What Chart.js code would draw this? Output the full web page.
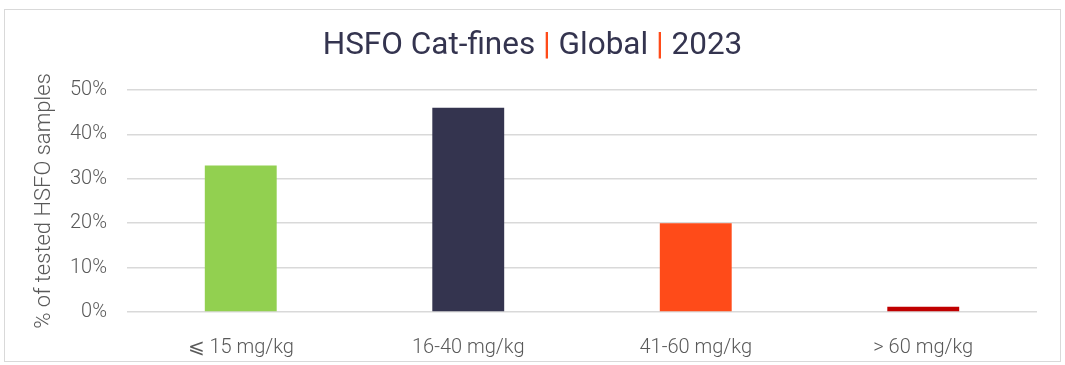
<!DOCTYPE html>
<html lang="en">
<head>
  <meta charset="UTF-8" />
  <title>HSFO Cat-fines | Global | 2023</title>
  <script src="https://cdn.jsdelivr.net/npm/chart.js"></script>
  <style>
    body {
      margin: 0;
      background-color: #ffffff;
      font-family: 'Roboto', sans-serif;
    }

    .frame {
      position: absolute;
      left: 4px;
      top: 9px;
      width: 1055px;
      height: 351px;
      border: 1.5px solid #d9d9d9;
    }

    .chart-title {
      position: absolute;
      left: 0;
      top: 26px;
      width: 1065px;
      text-align: center;
      font-size: 31.5px;
      line-height: 36px;
      color: #34344f;
    }

    .chart-title .sep {
      color: #ff4b19;
    }

    canvas {
      position: absolute;
      left: 0;
      top: 0;
    }
  </style>
</head>
<body>
  <div class="frame"></div>
  <canvas id="catfinesChart" width="1065" height="365"></canvas>
  <div class="chart-title">HSFO Cat-fines <span class="sep">|</span> Global <span class="sep">|</span> 2023</div>

  <script>
    const categories = ["⩽ 15 mg/kg", "16-40 mg/kg", "41-60 mg/kg", "> 60 mg/kg"];
    const shares = [33, 46, 20, 1.2];
    const barColors = ["#92d050", "#34344f", "#ff4b19", "#c00000"];
    const yTicks = [0, 10, 20, 30, 40, 50];

    const labelColor = "#595959";
    const gridColor = "#d9d9d9";

    new Chart(document.getElementById("catfinesChart"), {
      type: "bar",
      data: {
        labels: categories,
        datasets: [{
          label: "% of tested HSFO samples",
          data: shares,
          backgroundColor: barColors,
          categoryPercentage: 1,
          barPercentage: 0.316
        }]
      },
      options: {
        responsive: false,
        animation: false,
        layout: {
          padding: { left: 31, right: 28, top: 90, bottom: 0 }
        },
        plugins: {
          legend: { display: false },
          tooltip: { enabled: false }
        },
        scales: {
          x: {
            grid: { display: false },
            border: { display: false },
            ticks: {
              color: labelColor,
              font: { family: "Roboto", size: 20, weight: 300 },
              padding: 16
            },
            afterFit: (scale) => { scale.height = 53; }
          },
          y: {
            min: 0,
            max: yTicks[yTicks.length - 1],
            afterBuildTicks: (scale) => {
              scale.ticks = yTicks.map(v => ({ value: v }));
            },
            grid: {
              color: gridColor,
              lineWidth: 1.5,
              drawTicks: false
            },
            border: { display: false },
            ticks: {
              color: labelColor,
              font: { family: "Roboto", size: 20, weight: 300 },
              padding: 20,
              callback: (v) => v + "%"
            },
            title: {
              display: true,
              text: "% of tested HSFO samples",
              color: labelColor,
              font: { family: "Roboto", size: 22, weight: 300 },
              padding: 0
            },
            afterFit: (scale) => { scale.width = 127 - 31; }
          }
        }
      }
    });
  </script>
</body>
</html>
